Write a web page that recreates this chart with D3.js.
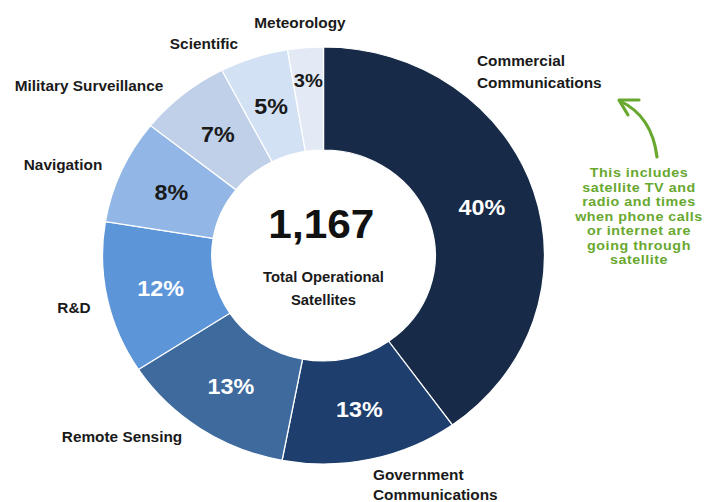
<!DOCTYPE html>
<html><head><meta charset="utf-8">
<script src="https://cdn.jsdelivr.net/npm/d3@7"></script>
<style>html,body{margin:0;padding:0;background:#fff;}svg{display:block;}</style>
</head><body>
<svg id="chart" width="712" height="502"></svg>
<script>
const categories = ["Commercial Communications","Government Communications","Remote Sensing","R&D","Navigation","Military Surveillance","Scientific","Meteorology"];
const shares = [40.1, 12.9, 12.8, 11.8, 8.1, 6.7, 5.0, 2.6];
const pctLabels = ["40%","13%","13%","12%","8%","7%","5%","3%"];
const colors = ["#172a47","#1e3e6e","#3e6a9e","#5d95d9","#92b7e6","#bfd0e8","#d3e1f5","#e3eaf6"];
const totalLabel = "1,167";
const centerLines = ["Total Operational","Satellites"];
const noteLines = ["This includes","satellite TV and","radio and times","when phone calls","or internet are","going through","satellite"];

const svg = d3.select("#chart");
const cx = 323.5, cy = 255.5, sx = 1.06;
const rOut = 208.5, rIn = 105.5;
const g = svg.append("g").attr("transform", `translate(${cx},${cy}) scale(${sx},1)`);
const font = "'Liberation Sans', Arial, sans-serif";

const pie = d3.pie().sort(null).value(d => d)(shares);
const arc = d3.arc().innerRadius(rIn).outerRadius(rOut);

g.selectAll("path.slice").data(pie).join("path")
  .attr("class","slice")
  .attr("d", arc)
  .attr("fill", (d,i) => colors[i])
  .attr("stroke", "#ffffff").attr("stroke-width", 1.2);

// percent labels
const darkText = [false,false,false,false,true,true,true,true];
g.selectAll("text.pct").data(pie).join("text")
  .attr("class","pct")
  .attr("transform", (d,i) => {
    const a = (d.startAngle + d.endAngle)/2;
    const r = shares[i] < 4 ? 176 : (rIn + rOut)/2;
    return `translate(${r*Math.sin(a)},${-r*Math.cos(a)})`;
  })
  .attr("text-anchor","middle").attr("dy","0.36em")
  .attr("font-family", font).attr("font-weight","bold")
  .attr("font-size", (d,i) => shares[i] < 4 ? 19 : 22)
  .attr("fill", (d,i) => darkText[i] ? "#1a1a1a" : "#ffffff")
  .text((d,i) => pctLabels[i]);

// center text
g.append("text").attr("x",-2).attr("y",238-cy).attr("text-anchor","middle")
  .attr("font-family", font).attr("font-weight","bold").attr("font-size",40)
  .attr("fill","#111").text(totalLabel);
centerLines.forEach((t,i) => {
  g.append("text").attr("x",0).attr("y",282-cy+i*23).attr("text-anchor","middle")
    .attr("font-family", font).attr("font-weight","bold").attr("font-size",14)
    .attr("fill","#1a1a1a").text(t);
});

// category labels (actual pixel positions converted to local)
const lx = X => (X - cx)/sx, ly = Y => Y - cy;
const catPos = [
  {x:477, y:[66,88], anchor:"start"},
  {x:373, y:[480,500], anchor:"start"},
  {x:122, y:[442], anchor:"middle"},
  {x:74, y:[313], anchor:"middle"},
  {x:63, y:[170], anchor:"middle"},
  {x:89, y:[91], anchor:"middle"},
  {x:204, y:[49], anchor:"middle"},
  {x:300, y:[28], anchor:"middle"}
];
const catLines = [["Commercial","Communications"],["Government","Communications"],["Remote Sensing"],["R&D"],["Navigation"],["Military Surveillance"],["Scientific"],["Meteorology"]];
catPos.forEach((p,i) => {
  catLines[i].forEach((t,j) => {
    g.append("text").attr("x", lx(p.x)).attr("y", ly(p.y[j]))
      .attr("text-anchor", p.anchor)
      .attr("font-family", font).attr("font-weight","bold").attr("font-size",14.5)
      .attr("fill","#1a1a1a").text(t);
  });
});

// green note
const green = "#68a82f";
noteLines.forEach((t,i) => {
  g.append("text").attr("x", lx(639)).attr("y", ly(177 + i*14.5))
    .attr("text-anchor","middle")
    .attr("font-family", font).attr("font-weight","bold").attr("font-size",13.5)
    .attr("letter-spacing", 0.5)
    .attr("fill", green).text(t);
});
// arrow
const pth = d3.path();
pth.moveTo(lx(657), ly(157));
pth.quadraticCurveTo(lx(652), ly(116), lx(620), ly(101));
g.append("path").attr("d", pth.toString()).attr("fill","none")
  .attr("stroke", green).attr("stroke-width",3).attr("stroke-linecap","round");
const head = d3.path();
head.moveTo(lx(639), ly(100));
head.lineTo(lx(619), ly(100));
head.lineTo(lx(628), ly(115));
g.append("path").attr("d", head.toString()).attr("fill","none")
  .attr("stroke", green).attr("stroke-width",3).attr("stroke-linecap","round").attr("stroke-linejoin","round");
</script>
</body></html>
